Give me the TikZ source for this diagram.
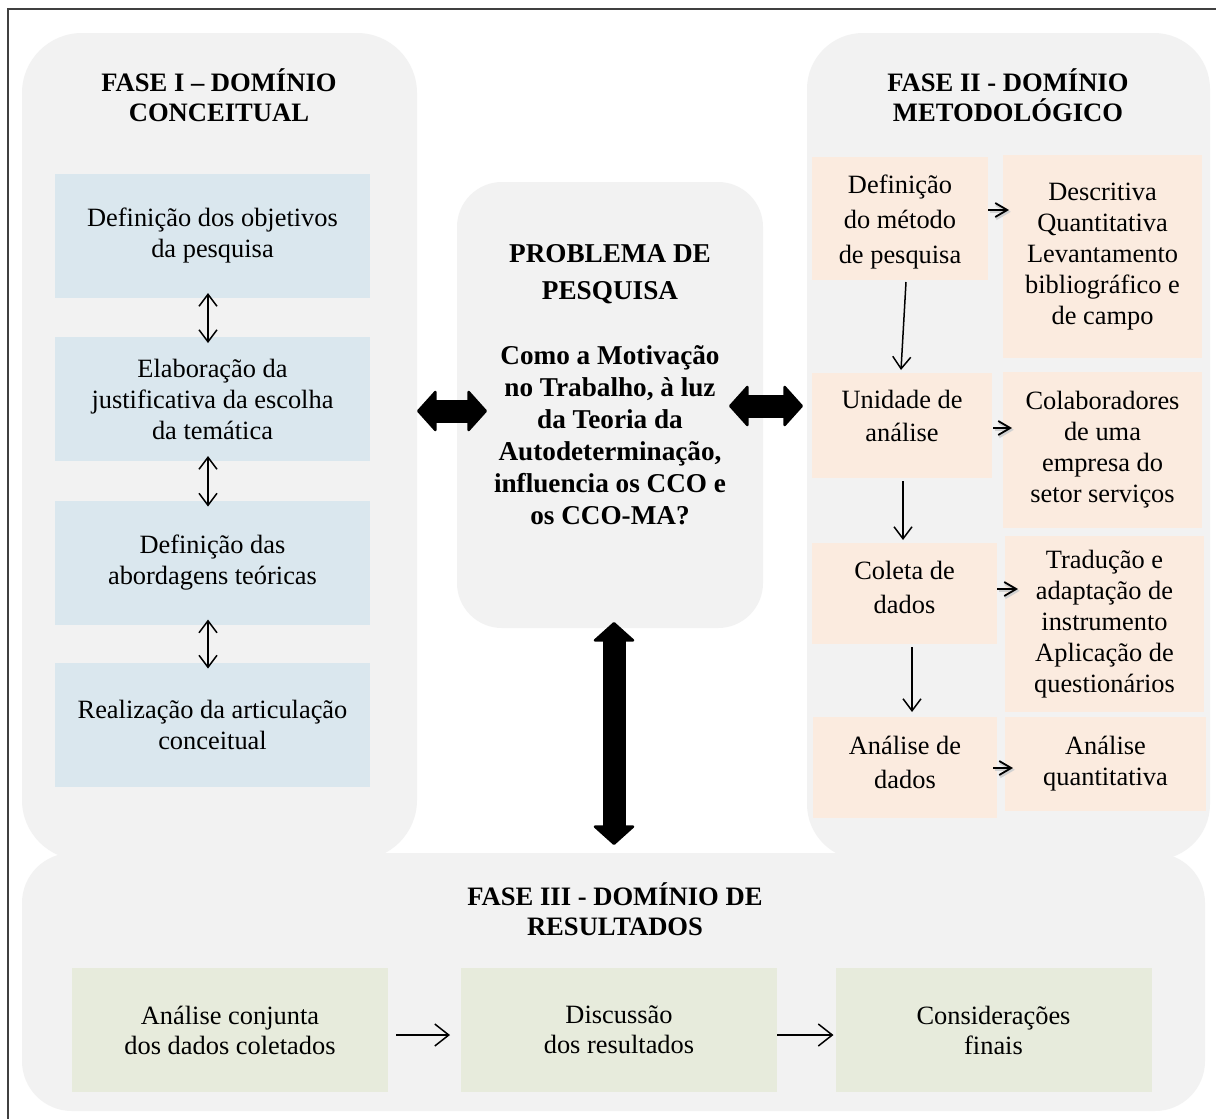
\documentclass[tikz,border=0pt]{standalone}
\usepackage{fontspec}
\setmainfont{Liberation Serif}
\usetikzlibrary{arrows.meta}

\definecolor{panelgray}{HTML}{F2F2F2}
\definecolor{conceptblue}{HTML}{DAE7EE}
\definecolor{methodpeach}{HTML}{FBEBDF}
\definecolor{resultgreen}{HTML}{E7EBDC}
\definecolor{framegray}{HTML}{404040}

\begin{document}
\begin{tikzpicture}[x=0.5pt,y=-0.5pt,
  panel/.style={fill=panelgray, draw=none, inner sep=0pt, outer sep=0pt},
  title/.style={align=center, inner sep=0pt, font=\bfseries\fontsize{13.3pt}{15pt}\selectfont},
  box/.style={draw=none, inner sep=2pt, outer sep=0pt, align=center,
    font=\fontsize{13.2pt}{15.5pt}\selectfont},
  conceptbox/.style={box, fill=conceptblue, minimum width=157.5pt, minimum height=62pt},
  methodleft/.style={box, fill=methodpeach, font=\fontsize{13.2pt}{17pt}\selectfont},
  methodright/.style={box, fill=methodpeach},
  resultbox/.style={box, fill=resultgreen, minimum width=158pt, minimum height=62pt,
    font=\fontsize{13.2pt}{15pt}\selectfont},
  bigtip/.tip={Triangle[length=10pt,width=22pt,round,line width=1.2pt]},
  bigarrow/.style={line width=11.5pt, bigtip-bigtip},
  thintip/.tip={Straight Barb[length=6pt,width=9pt]},
  thindbl/.style={line width=0.75pt, thintip-thintip},
  thinarr/.style={line width=0.75pt, -thintip},
  flowarr/.style={line width=0.75pt, -{Straight Barb[length=7pt,width=11pt]}},
  smalltip/.tip={Straight Barb[length=6pt,width=7pt]},
  smallarr/.style={line width=0.9pt, -smalltip,
    preaction={draw=black!18, line width=1.4pt, -smalltip,
      transform canvas={xshift=0.9pt,yshift=-0.9pt}}}
]
\useasboundingbox (0,0) rectangle (1216,1119);
\fill[white] (0,0) rectangle (1216,1119);

% outer frame
\draw[framegray, line width=1pt] (8,1119) -- (8,9) -- (1216,9);

% phase panels
\node[panel, minimum width=591.5pt, minimum height=129pt, rounded corners=25pt] (f3) at (613.5,982) {};
\node[panel, minimum width=197.5pt, minimum height=413.5pt, rounded corners=30pt] (f1) at (219.5,446.5) {};
\node[panel, minimum width=201.5pt, minimum height=413.5pt, rounded corners=28pt] (f2) at (1008.5,446.5) {};
\node[panel, minimum width=153pt, minimum height=223pt, rounded corners=22.5pt] (prob) at (610,405) {};

% titles
\node[title] (t1) at (219,95) {FASE I – DOMÍNIO\\CONCEITUAL};
\node[title] (t2) at (1008,95) {FASE II - DOMÍNIO\\METODOLÓGICO};
\node[title] (t3) at (615,909) {FASE III - DOMÍNIO DE\\RESULTADOS};

% research problem
\node[align=center, inner sep=0pt, font=\bfseries\fontsize{13.6pt}{16pt}\selectfont] (probtxt) at (610,385)
  {PROBLEMA DE\\[2.5pt]PESQUISA\\[16.5pt]Como a Motivação\\no Trabalho, à luz\\da Teoria da\\Autodeterminação,\\influencia os CCO e\\os CCO-MA?};

% phase I: conceptual steps
\node[conceptbox] (c1) at (212.5,236) {Definição dos objetivos\\da pesquisa};
\node[conceptbox] (c2) at (212.5,399) {Elaboração da\\justificativa da escolha\\da temática};
\node[conceptbox] (c3) at (212.5,562.5) {Definição das\\abordagens teóricas};
\node[conceptbox] (c4) at (212.5,724.5) {Realização da articulação\\conceitual};

\draw[thindbl] ([xshift=-2.25pt,yshift=2.5pt]c1.south) -- ([xshift=-2.25pt,yshift=-3pt]c2.north);
\draw[thindbl] ([xshift=-2.25pt,yshift=2.5pt]c2.south) -- ([xshift=-2.25pt,yshift=-3pt]c3.north);
\draw[thindbl] ([xshift=-2.25pt,yshift=2.5pt]c3.south) -- ([xshift=-2.25pt,yshift=-3pt]c4.north);

% phase II: methodological steps (left column text is nudged off centre)
\node[methodleft, minimum width=88pt, minimum height=61.5pt, font=\fontsize{13.2pt}{17.5pt}\selectfont] (m1) at (900,218.5) {\rule{0pt}{12.5pt}Definição\\do método\\de pesquisa};
\node[methodright, minimum width=99.5pt, minimum height=101.5pt] (r1) at (1102.5,256.5) {Descritiva\\Quantitativa\\Levantamento\\bibliográfico e\\de campo};
\node[methodleft, minimum width=90pt, minimum height=52.5pt, font=\fontsize{13.2pt}{16.5pt}\selectfont] (m2) at (902,425.5) {Unidade de\\análise\\[-7pt]\mbox{}};
\node[methodright, minimum width=99.5pt, minimum height=78pt] (r2) at (1102.5,450) {Colaboradores\\de uma\\empresa do\\setor serviços};
\node[methodleft, minimum width=92.5pt, minimum height=50.5pt] (m3) at (904.5,593.5) {Coleta de\\dados\\[-11pt]\mbox{}};
\node[methodright, minimum width=99.5pt, minimum height=88pt] (r3) at (1104.5,624) {Tradução e\\adaptação de\\instrumento\\Aplicação de\\questionários};
\node[methodleft, minimum width=92pt, minimum height=50.5pt] (m4) at (905,767.5) {Análise de\\dados\\[-12pt]\mbox{}};
\node[methodright, minimum width=100.5pt, minimum height=47pt] (r4) at (1105.5,764) {Análise\\quantitativa};

\draw[thinarr] ([xshift=3pt,yshift=-1pt]m1.south) -- ([xshift=-0.5pt,yshift=1.5pt]m2.north);
\draw[thinarr] ([xshift=0.5pt,yshift=-1.5pt]m2.south) -- ([xshift=-0.75pt,yshift=1.5pt]m3.north);
\draw[thinarr] ([xshift=3.75pt,yshift=-1.5pt]m3.south) -- ([xshift=3.5pt,yshift=2.5pt]m4.north);

\draw[smallarr] ([yshift=4.25pt]m1.east) -- ([xshift=3pt,yshift=23.25pt]r1.west);
\draw[smallarr] ([xshift=0.5pt,yshift=-1.25pt]m2.east) -- ([xshift=4.5pt,yshift=11pt]r2.west);
\draw[smallarr] ([yshift=2.25pt]m3.east) -- ([xshift=6.5pt,yshift=17.5pt]r3.west);
\draw[smallarr] ([xshift=-2pt,yshift=-0.25pt]m4.east) -- ([xshift=4pt,yshift=-2pt]r4.west);

% phase III: results
\node[resultbox] (g1) at (230,1030) {Análise conjunta\\dos dados coletados};
\node[resultbox] (g2) at (619,1030) {Discussão\\dos resultados};
\node[resultbox] (g3) at (993.5,1030) {Considerações\\finais};

\draw[flowarr] ([xshift=4pt,yshift=-2.5pt]g1.east) -- ([xshift=-5.5pt,yshift=-2.5pt]g2.west);
\draw[flowarr] ([yshift=-2.5pt]g2.east) -- ([xshift=-1pt,yshift=-2.5pt]g3.west);

% links between the phases and the research problem
\coordinate (pl1) at (417,411);
\coordinate (pl2) at (487,411);
\coordinate (pr1) at (729,406);
\coordinate (pr2) at (803,406);
\coordinate (pv1) at (614,622);
\coordinate (pv2) at (614,845);
\draw[bigarrow] (pl1) -- (pl2);
\draw[bigarrow] (pr1) -- (pr2);
\draw[bigarrow] (pv1) -- (pv2);
\end{tikzpicture}
\end{document}
